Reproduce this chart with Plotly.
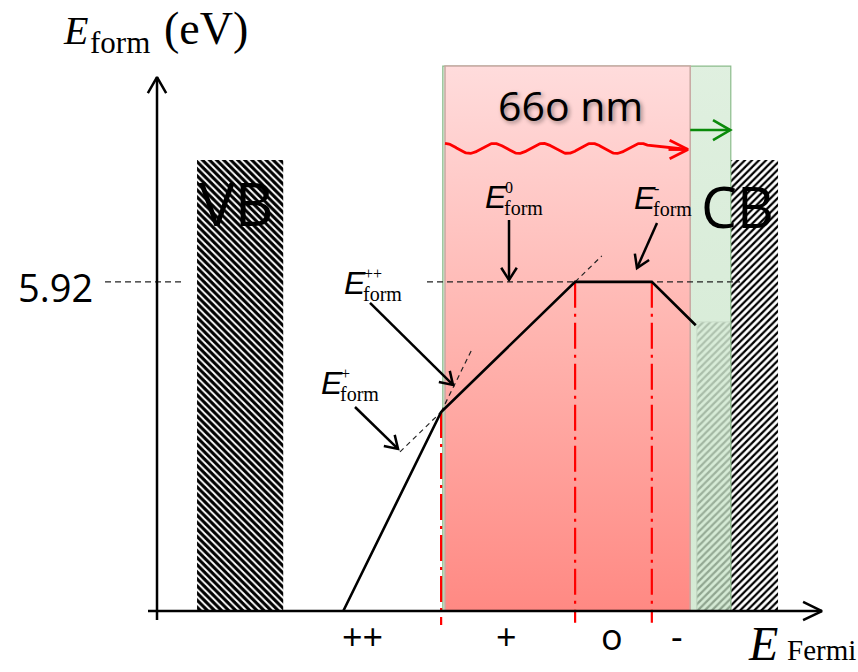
import numpy as np
import plotly.graph_objects as go

# ---------------- data (E_Fermi in arbitrary units, E_form in eV) ----------------
fermi_kinks = [3.35, 5.11, 7.52, 8.90, 9.69]      # E_Fermi at the kinks of the formation-energy curve
eform_kinks = [0.00, 3.58, 5.92, 5.92, 5.14]      # E_form at those points
transition_levels = [5.11, 7.52, 8.90]            # (++/+), (+/0), (0/-)
transition_tops = [3.58, 5.92, 5.92]
transition_bottoms = [-0.25, -0.21, -0.21]
neutral_eform = 5.92
charge_labels = ["++", "+", "o", "-"]
charge_label_x = [3.70, 6.28, 8.18, 9.35]

vb_edges = [0.72, 2.27]
cb_edges = [10.32, 11.17]
cb_tail_edges = [9.71, 10.32]
band_top = 8.11
cb_tail_top = 5.20

green_window = [5.14, 10.32]
red_window = [5.18, 9.59]
window_top = 9.80

# ---------------- plot frame ----------------
X_RANGE = [-2.824, 12.608]
Y_RANGE = [-1.097, 10.989]

fig = go.Figure()


def band(edges, top, shape, solidity, line=None):
    fig.add_trace(go.Bar(
        x=[(edges[0] + edges[1]) / 2], y=[top], base=[0], width=[edges[1] - edges[0]],
        marker=dict(color="black", line=line or dict(width=0),
                    pattern=dict(shape=shape, size=5, solidity=solidity,
                                 fgcolor="black", bgcolor="white", fillmode="replace")),
        hoverinfo="skip"))


band(vb_edges, band_top, "\\", 0.62)
band(cb_edges, band_top, "/", 0.45)
band(cb_tail_edges, cb_tail_top, "/", 0.45, dict(width=1, color="#9a9a9a"))


def rect(xs, top, colorscale, edge, width):
    fig.add_trace(go.Scatter(
        x=[xs[0], xs[1], xs[1], xs[0], xs[0]], y=[0, 0, top, top, 0],
        mode="lines", fill="toself",
        fillgradient=dict(type="vertical", start=0, stop=top, colorscale=colorscale),
        line=dict(color=edge, width=width), hoverinfo="skip"))


rect(green_window, window_top,
     [[0, "rgba(196,226,196,0.72)"], [1, "rgba(222,239,222,0.95)"]], "#8cbc8c", 1.2)
rect(red_window, window_top,
     [[0, "#ff8983"], [0.5, "#ffb4af"], [1, "#ffdcdc"]], "#c8a8a2", 1.5)


def line(xs, ys, color="black", width=2.5, dash=None):
    fig.add_trace(go.Scatter(x=xs, y=ys, mode="lines",
                             line=dict(color=color, width=width, dash=dash),
                             hoverinfo="skip"))


# transition levels (red dash-dot)
tx, ty = [], []
for t, top, bot in zip(transition_levels, transition_tops, transition_bottoms):
    tx += [t, t, None]
    ty += [top, bot, None]
line(tx, ty, "#ff0000", 2.2, "26px,6px,3px,6px")

# 5.92 eV reference level
line([-0.935, 0.504, None, 4.856, 10.486],
     [neutral_eform, neutral_eform, None, neutral_eform, neutral_eform],
     "#222222", 1.2, "6px,4px")


# tangent extensions of the ++ and + segments
def seg_y(i, x):
    x0, x1 = fermi_kinks[i], fermi_kinks[i + 1]
    y0, y1 = eform_kinks[i], eform_kinks[i + 1]
    return y0 + (y1 - y0) * (x - x0) / (x1 - x0)


ext_x = [fermi_kinks[1], 5.66, None, 4.37, fermi_kinks[1], None, fermi_kinks[2], 8.00]
ext_y = [seg_y(0, v) if v is not None else None for v in ext_x[:3]] + \
        [seg_y(1, v) if v is not None else None for v in ext_x[3:]]
line(ext_x, ext_y, "#222222", 1.2, "5px,4px")

# formation energy curve
line(fermi_kinks, eform_kinks, "black", 2.6)


def arrow(x0, y0, x1, y1, color="black", width=2.5, hl=0.22, hw=0.14):
    dx, dy = x1 - x0, y1 - y0
    L = (dx * dx + dy * dy) ** 0.5
    ux, uy = dx / L, dy / L
    px, py = -uy, ux
    bx, by = x1 - ux * hl, y1 - uy * hl
    xs = [x0, x1, None, bx + px * hw, x1, bx - px * hw]
    ys = [y0, y1, None, by + py * hw, y1, by - py * hw]
    line(xs, ys, color, width)


# axes
arrow(-0.162, 0, 11.96, 0, hl=0.34, hw=0.165)
arrow(0, -0.162, 0, 9.604, hl=0.29, hw=0.165)

# photon (wavy red arrow)
wave_x = np.linspace(red_window[0], 8.82, 300)
wave_y = 8.32 + 0.09 * np.cos(2 * np.pi * (wave_x - red_window[0]) / 0.88)
line(list(wave_x) + [9.55], list(wave_y) + [8.30], "#ff0000", 2.8)
arrow(9.2, 8.30, 9.55, 8.30, "#ff0000", 2.8, hl=0.33, hw=0.165)
# green arrow
arrow(9.59, 8.65, 10.31, 8.65, "#0a8a0a", 2.6, hl=0.31, hw=0.18)

# label arrows
arrow(3.831, 5.540, 5.324, 4.065)
arrow(3.561, 3.669, 4.335, 2.914)
arrow(6.331, 7.032, 6.331, 5.953)
arrow(8.993, 6.978, 8.633, 6.169)

# ---------------- text ----------------
ann = []


def text(x, y, s, size, family="Open Sans", xanchor="center", color="black", shadow=None):
    f = dict(size=size, family=family, color=color)
    if shadow:
        f["shadow"] = shadow
    ann.append(dict(x=x, y=y, xref="x", yref="y", text=s, showarrow=False,
                    xanchor=xanchor, yanchor="middle", font=f))


SERIF = "Liberation Serif"
text(-1.735, 10.44, "<i>E</i>", 40, SERIF, "left")
text(-1.241, 10.216, "form", 31, SERIF, "left")
text(0.09, 10.48, "(eV)", 46, SERIF, "left")
text(10.60, -0.59, "<i>E</i>", 48, SERIF, "left")
text(11.29, -0.70, "Fermi", 29, SERIF, "left")


def elabel(x, y, sup):
    text(x, y, "<i>E</i>", 32, "Liberation Sans", "left")
    text(x + 0.342, y - 0.205, "form", 20, SERIF, "left")
    text(x + 0.36, y + 0.165, sup, 16, SERIF, "left")


elabel(5.863, 7.455, "0")
elabel(8.543, 7.428, "-")
elabel(3.327, 5.908, "++")
elabel(2.914, 4.101, "+")

text(7.428, 9.101, "66o nm", 41, shadow="2px 2px 4px rgba(0,0,0,0.4)")
text(1.421, 7.338, "VB", 60)
text(10.441, 7.284, "CB", 57)
text(-1.115, 5.827, "5.92", 38, xanchor="right")
for lab, xv in zip(charge_labels, charge_label_x):
    text(xv, -0.45, lab, 36)

fig.update_layout(
    width=858, height=672, margin=dict(l=0, r=0, t=0, b=0),
    paper_bgcolor="white", plot_bgcolor="white", showlegend=False,
    barmode="overlay", annotations=ann,
    xaxis=dict(range=X_RANGE, visible=False, fixedrange=True),
    yaxis=dict(range=Y_RANGE, visible=False, fixedrange=True),
)
fig.write_html("out.html")
